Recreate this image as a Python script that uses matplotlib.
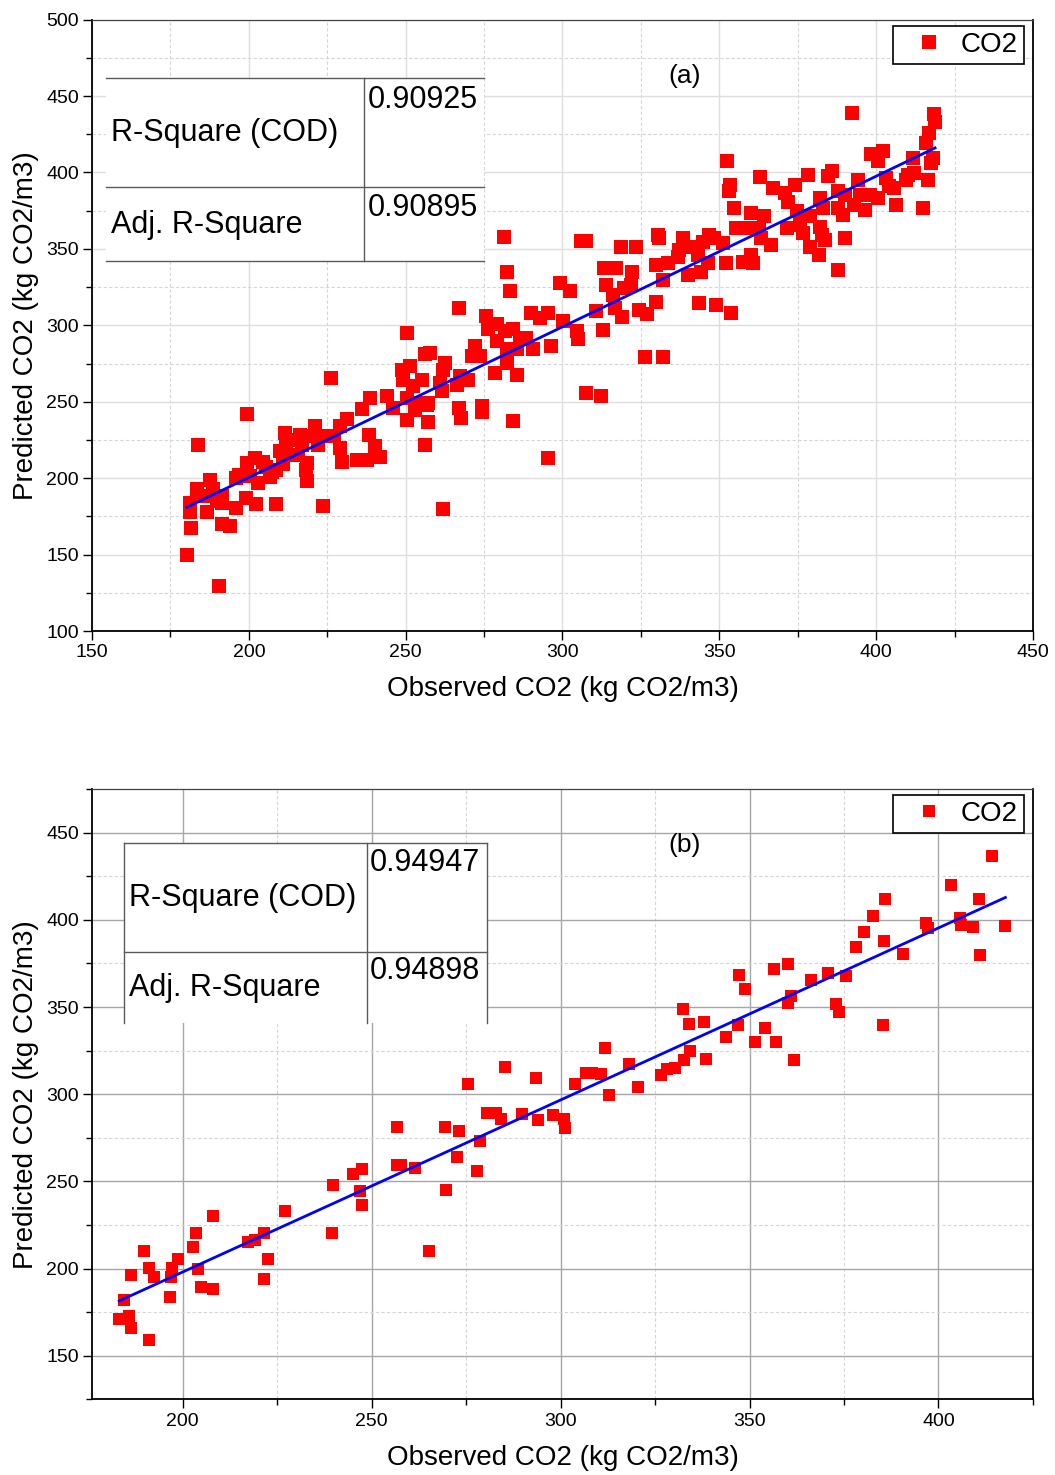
import numpy as np
import matplotlib.pyplot as plt
from matplotlib.patches import Rectangle
from matplotlib.ticker import MultipleLocator

plt.rcParams['font.family'] = ['Liberation Sans', 'DejaVu Sans']

# ---------------- panel (a) : observed vs predicted ----------------
obs_a = [
    180.3, 190.4, 181.5, 181.2, 181.2, 183.7, 183.5, 187.6, 186.8, 185.4,
    191.5, 191.5, 191.6, 194.1, 195.9, 196.0, 199.0, 202.2, 199.5, 199.3,
    202.0, 203.0, 205.6, 206.7, 208.8, 208.8, 209.9, 211.5, 212.0, 216.3,
    218.4, 218.6, 218.2, 220.0, 221.0, 215.7, 223.7, 223.5, 226.2, 227.0,
    229.0, 229.8, 229.0, 231.2, 234.4, 236.0, 237.7, 238.2, 240.3, 241.9,
    238.6, 188.5, 190.0, 197.0, 200.5, 204.5, 207.5, 211.0, 213.5, 214.0,
    217.0, 222.0,
    281.3, 282.2, 283.2, 266.9, 250.3, 306.0, 307.6, 299.2, 302.3, 310.8,
    304.5, 305.0, 300.2, 290.1, 295.4, 292.8, 275.6, 276.3, 279.0, 281.6,
    284.3, 286.4, 288.5, 279.0, 282.2, 285.4, 290.7, 296.5, 272.1, 271.0,
    273.7, 278.4, 282.2, 285.4, 256.2, 257.7, 262.5, 262.0, 248.7, 251.4,
    249.3, 255.1, 252.5, 261.0, 267.4, 270.0, 266.4, 244.0, 250.3, 253.5,
    257.2, 261.5, 246.0, 253.0, 256.7, 250.3, 257.2, 267.1, 267.6, 274.2,
    274.2, 284.1, 256.2, 307.6, 312.4, 295.4, 261.8,
    352.4, 353.4, 353.2, 354.8, 363.1, 367.0, 360.1, 364.4, 355.3, 358.5,
    362.8, 363.3, 366.5, 360.1, 357.4, 360.6, 352.1, 346.8, 348.4, 351.1,
    344.7, 338.3, 340.4, 337.2, 330.9, 330.3, 343.1, 346.3, 344.1, 339.9,
    336.7, 333.5, 329.8, 331.9, 323.4, 318.6, 322.3, 321.7, 317.0, 313.3,
    313.8, 316.0, 319.7, 316.8, 319.1, 324.5, 327.1, 329.8, 343.4, 348.9,
    353.7, 312.8, 326.3, 332.1,
    392.4, 418.5, 418.8, 416.9, 415.8, 398.4, 402.3, 400.5, 411.6, 418.0,
    417.4, 378.4, 374.2, 385.8, 384.7, 394.2, 403.2, 409.5, 412.1, 416.4,
    410.1, 404.2, 405.7, 371.0, 372.0, 382.1, 387.9, 390.0, 394.7, 397.9,
    400.5, 393.1, 396.3, 387.9, 389.5, 383.1, 406.3, 415.1, 374.7, 378.9,
    371.5, 375.8, 376.8, 382.1, 382.6, 383.7, 378.9, 381.9, 390.0, 387.9,
]
pred_a = [
    149.5, 129.5, 167.4, 177.6, 183.7, 222.0, 192.8, 199.0, 177.6, 188.0,
    183.7, 188.5, 170.0, 168.6, 180.4, 200.0, 186.8, 182.8, 242.3, 209.8,
    213.0, 196.6, 207.6, 201.0, 183.0, 205.4, 217.5, 229.6, 223.0, 228.5,
    209.8, 198.0, 205.6, 227.5, 234.0, 215.3, 227.5, 182.0, 265.8, 227.5,
    219.7, 210.5, 234.0, 238.4, 212.0, 245.0, 212.0, 228.5, 220.8, 213.7,
    252.6, 193.0, 185.0, 202.0, 201.5, 210.5, 204.0, 209.0, 215.0, 225.0,
    222.0, 222.0,
    357.7, 335.0, 322.6, 311.0, 295.2, 355.0, 355.0, 328.0, 322.6, 309.4,
    296.3, 290.8, 302.8, 308.3, 308.3, 305.0, 306.0, 297.4, 300.7, 296.3,
    297.4, 291.9, 291.9, 289.7, 284.2, 284.2, 284.2, 286.4, 286.4, 279.8,
    279.8, 268.9, 275.4, 267.8, 281.0, 282.2, 275.4, 271.0, 271.0, 273.2,
    264.5, 264.5, 260.0, 262.3, 266.7, 264.5, 261.2, 253.5, 252.4, 249.1,
    249.1, 256.8, 245.8, 244.7, 248.0, 238.2, 236.6, 245.8, 239.3, 246.9,
    243.6, 237.7, 221.7, 255.7, 253.5, 212.9, 179.6,
    407.5, 392.0, 387.7, 376.8, 397.1, 390.0, 373.5, 371.3, 363.6, 363.6,
    363.6, 357.0, 352.6, 346.0, 341.7, 340.6, 340.6, 359.2, 357.0, 353.7,
    354.8, 357.0, 351.5, 349.3, 357.0, 359.2, 346.0, 340.6, 335.1, 332.9,
    345.0, 340.6, 339.5, 329.6, 351.5, 351.5, 335.1, 326.3, 337.3, 337.3,
    326.3, 319.7, 324.1, 311.0, 305.5, 309.9, 307.7, 315.4, 314.3, 313.2,
    308.1, 296.7, 279.2, 279.2,
    438.6, 438.2, 432.7, 426.1, 419.5, 411.8, 414.0, 407.4, 409.6, 409.6,
    406.3, 398.6, 392.0, 400.8, 397.5, 395.3, 396.4, 395.3, 399.7, 395.3,
    398.6, 390.9, 389.8, 386.5, 381.0, 383.2, 387.6, 385.4, 385.4, 385.4,
    383.2, 378.8, 375.5, 376.6, 372.3, 376.6, 378.8, 376.6, 374.5, 371.2,
    363.5, 365.7, 360.2, 364.6, 359.1, 355.8, 351.4, 346.3, 356.9, 336.4,
]

# ---------------- panel (b) ----------------
obs_b = [
    414.2, 403.4, 410.6, 385.9, 382.7, 380.4, 378.1, 385.5, 390.5, 396.7,
    397.1, 405.7, 406.0, 409.1, 417.7, 411.0, 385.3, 375.5, 370.8, 366.3,
    372.9, 373.7, 360.1, 356.5, 361.0, 360.1, 347.2, 348.9, 354.1, 357.0,
    351.4, 361.8, 347.0, 343.9, 332.5, 334.0, 337.9, 334.2, 338.4, 332.7,
    330.4, 328.1, 326.7, 320.6, 318.1, 312.9, 311.8, 310.7, 308.2, 306.8,
    303.9, 293.5, 285.3, 289.8, 293.9, 297.9, 300.8, 301.3, 280.6, 283.0,
    284.2,
    256.8, 269.3, 273.0, 278.8, 272.5, 277.9, 269.7, 265.2, 261.6, 256.7,
    257.9, 247.5, 245.0, 247.0, 247.4, 239.9, 239.5, 227.0, 221.4, 217.4,
    219.2, 222.6, 221.4, 207.9, 203.4, 202.7, 204.0, 204.9, 208.0, 198.8,
    197.1, 196.9, 196.7, 189.7, 191.1, 192.4, 186.3, 184.5, 185.7, 183.2,
    186.2, 191.0, 275.4,
]
pred_b = [
    436.8, 419.8, 412.0, 412.0, 402.3, 393.2, 384.5, 387.8, 380.4, 398.1,
    395.5, 401.0, 397.1, 395.7, 396.5, 379.7, 339.5, 367.8, 369.4, 365.7,
    351.6, 347.3, 374.8, 371.7, 356.4, 352.5, 368.4, 360.3, 338.0, 329.7,
    329.7, 319.6, 339.9, 332.6, 349.0, 340.5, 341.3, 325.0, 320.0, 319.6,
    315.3, 314.7, 310.9, 304.1, 317.2, 299.6, 326.7, 311.8, 312.2, 312.2,
    306.0, 309.5, 315.5, 288.6, 285.1, 288.0, 286.0, 280.8, 289.5, 289.5,
    285.7,
    281.3, 281.3, 279.2, 272.9, 264.2, 256.0, 245.0, 210.2, 257.9, 259.6,
    259.2, 256.9, 254.4, 244.4, 236.5, 247.9, 220.2, 232.9, 220.4, 215.0,
    216.5, 205.6, 193.8, 230.0, 220.4, 212.7, 200.0, 189.6, 188.3, 205.4,
    200.6, 195.4, 183.8, 210.2, 200.2, 195.0, 196.3, 181.9, 172.7, 171.0,
    166.0, 159.2, 306.0,
]

stats_a = ['0.90925', '0.90895']
stats_b = ['0.94947', '0.94898']
stat_names = ['R-Square (COD)', 'Adj. R-Square']


def style_axes(ax, xlim, ylim, major_grid):
    ax.set_xlim(*xlim)
    ax.set_ylim(*ylim)
    for axis in (ax.xaxis, ax.yaxis):
        axis.set_major_locator(MultipleLocator(50))
        axis.set_minor_locator(MultipleLocator(25))
    ax.set_axisbelow(True)
    ax.grid(which='major', color=major_grid, lw=1.0, ls='-')
    ax.grid(which='minor', color='#d6d6d6', lw=0.8, ls=(0, (3, 2)))
    ax.tick_params(which='major', direction='out', length=6.5, width=1.0,
                   labelsize=14, pad=3, top=False, right=False)
    ax.tick_params(which='minor', direction='out', length=4, width=1.0,
                   top=False, right=False)
    for side in ('left', 'bottom', 'right'):
        ax.spines[side].set_linewidth(1.3)
    ax.spines['top'].set_linewidth(0.9)
    ax.spines['top'].set_color('#444444')
    ax.set_xlabel('Observed CO2 (kg CO2/m3)', fontsize=20, labelpad=11)
    ax.set_ylabel('Predicted CO2 (kg CO2/m3)', fontsize=20, labelpad=5)


def stats_table(ax, xs, ys, vals, txt_y, val_y, txt_x, val_x, sides, bottom):
    x0, xm, x1 = xs
    y0, ym, y1 = ys
    ax.add_patch(Rectangle((x0, y1), x1 - x0, y0 - y1, transform=ax.transAxes,
                           fc='white', ec='none', zorder=1.5))
    kw = dict(transform=ax.transAxes, color='#5a5a5a', lw=1.0, zorder=2)
    ax.plot([x0, x1], [y0, y0], **kw)
    ax.plot([x0, x1], [ym, ym], **kw)
    if bottom:
        ax.plot([x0, x1], [y1, y1], **kw)
    ax.plot([xm, xm], [y0, y1], **kw)
    if sides:
        ax.plot([x0, x0], [y0, y1], **kw)
        ax.plot([x1, x1], [y0, y1], **kw)
    for name, v, ty, vy in zip(stat_names, vals, txt_y, val_y):
        ax.text(txt_x, ty, name, transform=ax.transAxes, fontsize=22,
                ha='left', va='center', zorder=3)
        ax.text(val_x, vy, v, transform=ax.transAxes, fontsize=22,
                ha='right', va='center', zorder=3)


def draw_panel(ax, obs, pred, msize):
    ax.plot(obs, pred, 's', color='#ff0000', markersize=msize, mew=0,
            label='CO2', zorder=3)
    k, b = np.polyfit(obs, pred, 1)
    xl = np.array([min(obs), max(obs)])
    ax.plot(xl, k * xl + b, '-', color='#0000ff', lw=2.0, zorder=4)
    leg = ax.legend(loc='upper right', bbox_to_anchor=(0.9904, 0.990),
                    borderaxespad=0, fontsize=20, fancybox=False,
                    framealpha=1, edgecolor='black', borderpad=0.22,
                    handlelength=2.15, handletextpad=0.08, numpoints=1)
    leg.get_frame().set_linewidth(1.2)


fig = plt.figure(figsize=(10.55, 14.75), dpi=100)
ax_a = fig.add_axes([0.0872, 0.5722, 0.8919, 0.4145])
ax_b = fig.add_axes([0.0872, 0.0512, 0.8919, 0.4139])

# ---- (a) ----
style_axes(ax_a, (150, 450), (100, 500), '#dedede')
draw_panel(ax_a, obs_a, pred_a, 9.5)
ax_a.text(0.630, 0.908, '(a)', transform=ax_a.transAxes, fontsize=19,
          ha='center', va='center')
stats_table(ax_a, (0.0154, 0.2888, 0.4166), (0.904, 0.726, 0.606), stats_a,
            (0.814, 0.664), (0.868, 0.692), 0.0207, 0.4106,
            sides=False, bottom=True)

# ---- (b) ----
style_axes(ax_b, (176, 425), (125, 475), '#a6a6a6')
draw_panel(ax_b, obs_b, pred_b, 9.0)
ax_b.text(0.630, 0.908, '(b)', transform=ax_b.transAxes, fontsize=19,
          ha='center', va='center')
stats_table(ax_b, (0.0345, 0.2924, 0.4196), (0.912, 0.7325, 0.616), stats_b,
            (0.821, 0.6735), (0.879, 0.702), 0.0395, 0.4123,
            sides=True, bottom=False)

fig.savefig('out.png', dpi=100)
